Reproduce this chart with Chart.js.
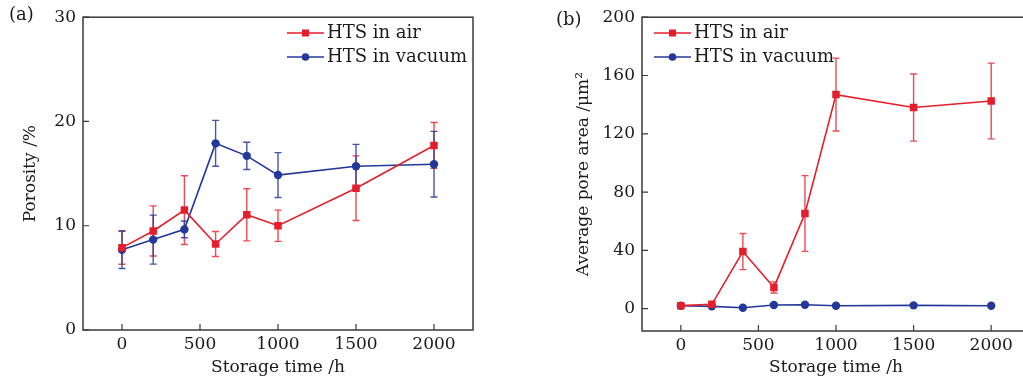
<!DOCTYPE html>
<html>
<head>
<meta charset="utf-8">
<script src="https://cdn.jsdelivr.net/npm/chart.js@4/dist/chart.umd.min.js"></script>
<style>
  html, body { margin: 0; padding: 0; background: #fff; overflow: hidden; width: 1023px; height: 381px; }
  .panel { position: absolute; top: 0; }
</style>
</head>
<body>
<div class="panel" style="left:0;width:500px;height:381px"><canvas id="chartA"></canvas></div>
<div class="panel" style="left:540px;width:520px;height:381px"><canvas id="chartB"></canvas></div>
<script>
// storage time (h)
const times = [0, 200, 400, 600, 800, 1000, 1500, 2000];
const xTicks = [0, 500, 1000, 1500, 2000];

// (a) porosity %
const porosityAir = [7.9, 9.5, 11.5, 8.25, 11.05, 10.0, 13.6, 17.7];
const porosityAirErr = [1.6, 2.4, 3.3, 1.2, 2.5, 1.5, 3.1, 2.2];
const porosityVac = [7.7, 8.67, 9.65, 17.9, 16.7, 14.86, 15.7, 15.9];
const porosityVacErr = [1.8, 2.35, 0.8, 2.2, 1.3, 2.15, 2.1, 3.15];
const porosityTicks = [0, 10, 20, 30];

// (b) average pore area um^2
const areaAir = [2.1, 3.0, 39.2, 14.6, 65.3, 146.9, 138, 142.5];
const areaAirErr = [0, 0, 12.4, 3.8, 26, 25, 23, 26];
const areaVac = [2.0, 1.6, 0.7, 2.5, 2.7, 2.0, 2.3, 2.0];
const areaVacErr = [0, 0, 0, 0, 0, 0, 0, 0];
const areaTicks = [0, 40, 80, 120, 160, 200];

const RED = '#e41f2b';
const BLUE = '#24389a';
const RED_ERR = 'rgba(228,31,43,0.8)';
const BLUE_ERR = 'rgba(36,56,154,0.85)';
const FONT = 'DejaVu Serif';
const AXIS = '#3a3a3a';
const TXT = '#1a1a1a';

Chart.defaults.font.family = FONT;
Chart.defaults.font.size = 17;
Chart.defaults.color = TXT;

function pts(ys) {
  return times.map((t, i) => ({ x: t, y: ys[i] }));
}

const errorBars = {
  id: 'errorBars',
  beforeDatasetsDraw(chart) {
    const ctx = chart.ctx;
    const ys = chart.scales.y;
    chart.data.datasets.forEach((ds, di) => {
      const meta = chart.getDatasetMeta(di);
      ctx.save();
      ctx.strokeStyle = ds.errColor;
      ctx.lineWidth = 1.4;
      meta.data.forEach((pt, i) => {
        const e = ds.err[i];
        if (!e) return;
        const v = ds.data[i].y;
        const top = ys.getPixelForValue(v + e);
        const bot = ys.getPixelForValue(v - e);
        const x = pt.x;
        ctx.beginPath();
        ctx.moveTo(x, top); ctx.lineTo(x, bot);
        ctx.moveTo(x - 3.5, top); ctx.lineTo(x + 3.5, top);
        ctx.moveTo(x - 3.5, bot); ctx.lineTo(x + 3.5, bot);
        ctx.stroke();
      });
      ctx.restore();
    });
  }
};

const frame = {
  id: 'frame',
  afterDraw(chart, args, opts) {
    const ctx = chart.ctx;
    const a = chart.chartArea;
    ctx.save();
    ctx.strokeStyle = AXIS;
    ctx.lineWidth = 1.5;
    ctx.strokeRect(a.left, a.top, a.right - a.left, a.bottom - a.top);
    ctx.lineWidth = 1.2;
    ctx.beginPath();
    chart.scales.x.ticks.forEach(t => {
      const px = chart.scales.x.getPixelForValue(t.value);
      ctx.moveTo(px, a.bottom); ctx.lineTo(px, a.bottom - 6);
    });
    chart.scales.y.ticks.forEach(t => {
      const py = chart.scales.y.getPixelForValue(t.value);
      ctx.moveTo(a.left, py); ctx.lineTo(a.left + 6, py);
    });
    ctx.stroke();
    // panel label
    ctx.fillStyle = TXT;
    ctx.font = '18px ' + FONT;
    ctx.textBaseline = 'middle';
    ctx.textAlign = 'left';
    ctx.fillText(opts.label, opts.labelX, opts.labelY);
    // legend
    chart.data.datasets.forEach((ds, i) => {
      const y = opts.legY + i * 24;
      ctx.strokeStyle = ds.borderColor;
      ctx.lineWidth = 1.5;
      ctx.beginPath();
      ctx.moveTo(opts.legX, y); ctx.lineTo(opts.legX + 37, y);
      ctx.stroke();
      ctx.fillStyle = ds.borderColor;
      const cx = opts.legX + 18.5;
      if (ds.pointStyle === 'rect') {
        ctx.fillRect(cx - 3.5, y - 3.5, 7, 7);
      } else {
        ctx.beginPath(); ctx.arc(cx, y, 3.8, 0, Math.PI * 2); ctx.fill();
      }
      ctx.fillStyle = TXT;
      ctx.fillText(ds.label, opts.legX + 40, y);
    });
    ctx.restore();
  }
};

function makeChart(id, air, airErr, vac, vacErr, yMin, yMax, yTicks, yTitle, yWidth, yTitlePad, pad, frameOpts) {
  return new Chart(document.getElementById(id), {
    type: 'line',
    data: {
      datasets: [
        { label: 'HTS in air', data: pts(air), err: airErr, errColor: RED_ERR,
          borderColor: RED, backgroundColor: RED, borderWidth: 1.6,
          pointStyle: 'rect', pointRadius: 5.3, pointBorderWidth: 0 },
        { label: 'HTS in vacuum', data: pts(vac), err: vacErr, errColor: BLUE_ERR,
          borderColor: BLUE, backgroundColor: BLUE, borderWidth: 1.6,
          pointStyle: 'circle', pointRadius: 4.2, pointBorderWidth: 0 }
      ]
    },
    options: {
      responsive: true,
      maintainAspectRatio: false,
      animation: false,
      layout: { padding: pad },
      plugins: { legend: { display: false }, tooltip: { enabled: false }, frame: frameOpts },
      scales: {
        x: {
          type: 'linear', min: -250, max: 2250,
          afterBuildTicks: s => { s.ticks = xTicks.map(v => ({ value: v })); },
          afterFit: s => { s.height = 381 - pad.top - (330 - 15) - pad.bottom; },
          grid: { display: false, drawTicks: false }, border: { display: false },
          ticks: { padding: 4, color: TXT, callback: v => String(v) },
          title: { display: true, text: 'Storage time /h', color: TXT, padding: { top: 0, bottom: 3 } }
        },
        y: {
          min: yMin, max: yMax,
          afterBuildTicks: s => { s.ticks = yTicks.map(v => ({ value: v })); },
          afterFit: s => { s.width = yWidth; },
          grid: { display: false, drawTicks: false }, border: { display: false },
          ticks: { padding: 7, color: TXT, callback: v => String(v) },
          title: { display: true, text: yTitle, color: TXT, padding: { top: yTitlePad, bottom: 0 } }
        }
      }
    },
    plugins: [errorBars, frame]
  });
}

makeChart('chartA', porosityAir, porosityAirErr, porosityVac, porosityVacErr,
  0, 30, porosityTicks, 'Porosity /%', 83, 20,
  { top: 15, right: 27, bottom: 0, left: 0 },
  { label: '(a)', labelX: 9, labelY: 15, legX: 287, legY: 33 });

makeChart('chartB', areaAir, areaAirErr, areaVac, areaVacErr,
  -15.3, 200, areaTicks, 'Average pore area /\u03bcm\u00b2', 102, 33,
  { top: 16, right: 30, bottom: 0, left: 0 },
  { label: '(b)', labelX: 16, labelY: 20, legX: 114, legY: 33 });
</script>
</body>
</html>
